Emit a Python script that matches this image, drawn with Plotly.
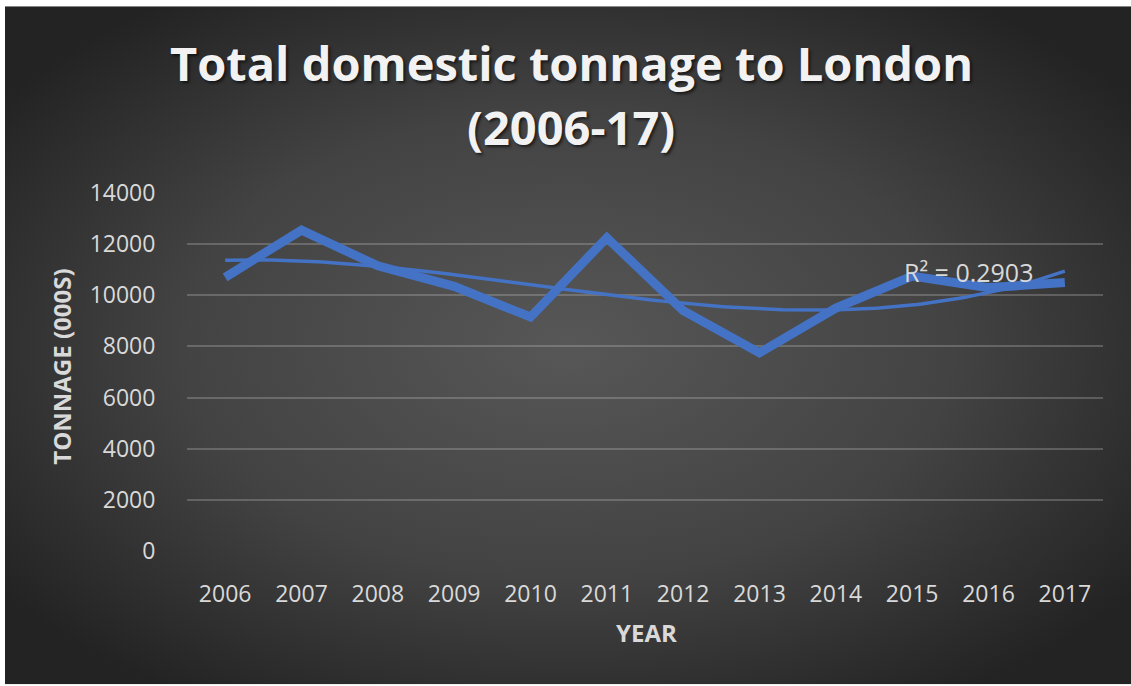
import base64
import numpy as np
import plotly.graph_objects as go

years = ["2006", "2007", "2008", "2009", "2010", "2011", "2012", "2013", "2014", "2015", "2016", "2017"]
tonnage = [10700, 12550, 11150, 10350, 9150, 12250, 9400, 7750, 9500, 10750, 10300, 10500]
y_ticks = [0, 2000, 4000, 6000, 8000, 10000, 12000, 14000]
y_tick_text = ["0", "2000", "4000", "6000", "8000", "10000", "12000", "14000"]

title_line1 = "Total domestic tonnage to London"
title_line2 = "(2006-17)"
x_title = "YEAR"
y_title = "TONNAGE (000S)"
r2_label = "R² = 0.2903"

W, H = 1131, 686
L, R, T, B = 187, 28, 193, 134.5
pw, ph = W - L - R, H - T - B

# polynomial (order 3) trendline, as in the spreadsheet chart
xi = np.arange(len(years))
coef = np.polyfit(xi, tonnage, 3)
xs = np.linspace(0, len(years) - 1, 200)
ys = np.polyval(coef, xs)

# radial gradient background
bw, bh = 1126, 679
svg = (f'<svg xmlns="http://www.w3.org/2000/svg" width="{bw}" height="{bh}" viewBox="0 0 {bw} {bh}" preserveAspectRatio="none">'
       '<defs><radialGradient id="g" cx="50%" cy="50%" r="62%">'
       '<stop offset="0" stop-color="#575757"/><stop offset="0.55" stop-color="#434343"/>'
       '<stop offset="1" stop-color="#232323"/></radialGradient></defs>'
       f'<rect width="{bw}" height="{bh}" fill="url(#g)"/></svg>')
src = "data:image/svg+xml;base64," + base64.b64encode(svg.encode()).decode()

fig = go.Figure()
fig.add_trace(go.Scatter(
    x=list(xi), y=tonnage, mode="lines",
    line=dict(color="#4472C4", width=9), hoverinfo="skip", showlegend=False))
fig.add_trace(go.Scatter(
    x=xs, y=ys, mode="lines",
    line=dict(color="#4472C4", width=3.5), hoverinfo="skip", showlegend=False))

def px_x(p):
    return (p - L) / pw

def px_y(p):
    return (H - B - p) / ph

fig.add_layout_image(dict(
    source=src, xref="paper", yref="paper",
    x=px_x(5), y=px_y(6), sizex=bw / pw, sizey=bh / ph,
    xanchor="left", yanchor="top", sizing="stretch", layer="below"))

txt = "#d9d9d9"
tfont = dict(family="Open Sans", size=47, color="#f2f2f2", weight="bold",
             shadow="2px 2px 3px rgba(0,0,0,0.6)")
fig.add_annotation(text=title_line1, xref="paper", yref="paper",
                   x=px_x(571), y=px_y(63), xanchor="center", yanchor="middle", showarrow=False,
                   font=tfont)
fig.add_annotation(text=title_line2, xref="paper", yref="paper",
                   x=px_x(571), y=px_y(127), xanchor="center", yanchor="middle", showarrow=False,
                   font=tfont)
fig.add_annotation(text=y_title, xref="paper", yref="paper", textangle=-90,
                   x=px_x(62), y=px_y(367), xanchor="center", yanchor="middle", showarrow=False,
                   font=dict(family="Open Sans", size=24, color=txt, weight="bold"))
fig.add_annotation(text=x_title, xref="paper", yref="paper",
                   x=px_x(646), y=px_y(633), xanchor="center", yanchor="middle", showarrow=False,
                   font=dict(family="Open Sans", size=24, color=txt, weight="bold"))
fig.add_annotation(text=r2_label, x=8.87, y=10930, xref="x", yref="y",
                   xanchor="left", yanchor="middle", showarrow=False,
                   font=dict(family="Open Sans", size=25, color=txt))

fig.update_xaxes(
    type="linear", range=[-0.5, len(years) - 0.5],
    tickvals=list(xi), ticktext=years, showgrid=False, zeroline=False, showline=False,
    ticks="outside", ticklen=22, tickcolor="rgba(0,0,0,0)",
    tickfont=dict(family="Open Sans", size=23, color=txt))
fig.update_yaxes(
    range=[0, 14000], tickvals=y_ticks, ticktext=y_tick_text, showgrid=True,
    gridcolor="rgba(200,200,200,0.28)", gridwidth=2, zeroline=False, showline=False,
    ticks="outside", ticklen=26, tickcolor="rgba(0,0,0,0)",
    tickfont=dict(family="Open Sans", size=23, color=txt))

fig.update_layout(
    width=W, height=H,
    margin=dict(l=L, r=R, t=T, b=B, autoexpand=False),
    paper_bgcolor="white", plot_bgcolor="rgba(0,0,0,0)",
    showlegend=False)

fig.write_html("out.html")
